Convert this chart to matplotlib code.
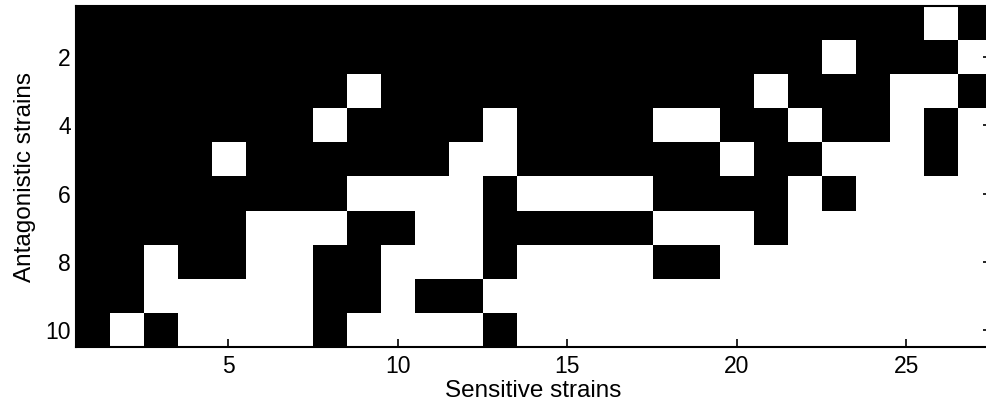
import numpy as np
import matplotlib
matplotlib.use("Agg")
import matplotlib.pyplot as plt

plt.rcParams['font.family'] = ['Liberation Sans', 'DejaVu Sans']

# 1 = white (no inhibition), 0 = black; rows = antagonistic strains 1..10, cols = sensitive strains 1..27
row1  = [0,0,0,0,0,0,0,0,0,0,0,0,0,0,0,0,0,0,0,0,0,0,0,0,0,1,0]
row2  = [0,0,0,0,0,0,0,0,0,0,0,0,0,0,0,0,0,0,0,0,0,0,1,0,0,0,1]
row3  = [0,0,0,0,0,0,0,0,1,0,0,0,0,0,0,0,0,0,0,0,1,0,0,0,1,1,0]
row4  = [0,0,0,0,0,0,0,1,0,0,0,0,1,0,0,0,0,1,1,0,0,1,0,0,1,0,1]
row5  = [0,0,0,0,1,0,0,0,0,0,0,1,1,0,0,0,0,0,0,1,0,0,1,1,1,0,1]
row6  = [0,0,0,0,0,0,0,0,1,1,1,1,0,1,1,1,1,0,0,0,0,1,0,1,1,1,1]
row7  = [0,0,0,0,0,1,1,1,0,0,1,1,0,0,0,0,0,1,1,1,0,1,1,1,1,1,1]
row8  = [0,0,1,0,0,1,1,0,0,1,1,1,0,1,1,1,1,0,0,1,1,1,1,1,1,1,1]
row9  = [0,0,1,1,1,1,1,0,0,1,0,0,1,1,1,1,1,1,1,1,1,1,1,1,1,1,1]
row10 = [0,1,0,1,1,1,1,0,1,1,1,1,0,1,1,1,1,1,1,1,1,1,1,1,1,1,1]

x_ticks = [5, 10, 15, 20, 25]
y_ticks = [2, 4, 6, 8, 10]
x_label = "Sensitive strains"
y_label = "Antagonistic strains"

matrix = np.array([row1, row2, row3, row4, row5, row6, row7, row8, row9, row10], dtype=float)
n_rows, n_cols = matrix.shape

fig = plt.figure(figsize=(9.86, 4.13), dpi=100)
ax = fig.add_axes([75.8/986, (413-347)/413, 915.2/986, 341/413])
ax.imshow(matrix, cmap='gray', vmin=0, vmax=1, interpolation='nearest', aspect='auto',
          extent=(0.5, n_cols + 0.5, n_rows + 0.5, 0.5))
ax.set_xlim(0.5, n_cols + 0.5)
ax.set_ylim(n_rows + 0.5, 0.5)
ax.set_xticks(x_ticks)
ax.set_yticks(y_ticks)
ax.tick_params(direction='in', length=6, width=1.2, top=True, right=True,
               labelsize=16.5)
ax.tick_params(axis='y', pad=3.5)
ax.tick_params(axis='x', pad=6)
for s in ax.spines.values():
    s.set_linewidth(1.5)
ax.set_xlabel(x_label, fontsize=17.5, labelpad=1)
ax.set_ylabel(y_label, fontsize=17.5, labelpad=7)

fig.savefig("out.png", dpi=100)
